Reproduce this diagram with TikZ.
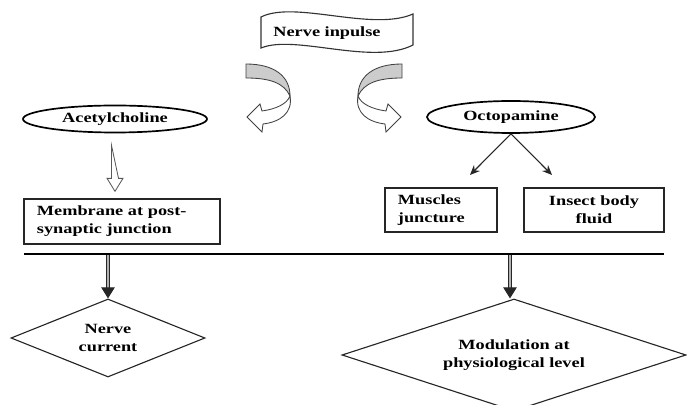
\documentclass[tikz,border=0pt]{standalone}
\usepackage{fontspec}
\newfontfamily\diagfont{Liberation Serif}[FakeStretch=1.3]
\usetikzlibrary{shapes.geometric,arrows.meta,positioning}

\tikzset{
    oval/.style={draw, ellipse, line width=1.2pt, inner sep=0pt},
    textbox/.style={draw=black!85, rectangle, line width=0.8pt, inner xsep=0.325cm, inner ysep=0pt},
    decision/.style={draw=black!85, diamond, line width=0.8pt, inner sep=0pt, align=center},
    hollow/.style={draw=black!65, line width=0.6pt, fill=white},
    bararrow/.style={draw=black!85, line width=0.7pt, double=black!30, double distance=1.2pt, -{Triangle[length=7.8pt, width=9.5pt]}},
    thinarrow/.style={draw=black!85, line width=0.8pt, -{Stealth[length=7pt, width=6pt]}},
    twistarrow/.pic={
        \draw[line width=0.6pt, draw=black!75, fill=black!20] (-44,-32) .. controls (-16,-32) and (0,-20) .. (0,0)
            .. controls (-6,-13) and (-20,-18) .. (-44,-18) -- cycle;
        \draw[line width=0.6pt, draw=black!75, fill=white] (0,0) .. controls (3,17) and (-10,26) .. (-27,28)
            -- (-28,36) -- (-43,21) -- (-30,8) -- (-28,15) .. controls (-14,13) and (-3,8) .. (0,0) -- cycle;
    }
}

\begin{document}
\begin{tikzpicture}[x=0.025cm, y=-0.025cm, font=\diagfont\fontsize{10}{12.8}\selectfont\bfseries]
    \useasboundingbox (0,0) rectangle (687,405);

    % banner on top
    \draw[line width=0.8pt, draw=black!80] (261,17) .. controls (295,0) and (372,32) .. (413,14) -- (413,45)
        .. controls (372,66) and (295,34) .. (261,48) -- cycle;
    \node(impulse) at (327,33) [] {Nerve inpulse};

    \pic at (290,96) {twistarrow};
    \pic[xscale=-1] at (358,96) {twistarrow};

    % left branch
    \node(acetyl) at (115,119) [oval, minimum width=4.6cm, minimum height=0.675cm] {Acetylcholine};
    \node(membrane) at (122,221.5) [textbox, minimum width=4.9cm, minimum height=1.125cm, text width=4.25cm, align=left] {Membrane at post-\\synaptic junction};

    % right branch
    \node(octo) at (511,117) [oval, minimum width=4.2cm, minimum height=0.8cm] {Octopamine};
    \node(muscles) at (441,210) [textbox, minimum width=2.8cm, minimum height=1.1cm, text width=2.15cm, align=left] {Muscles\\juncture};
    \node(fluid) at (594,210) [textbox, minimum width=3.5cm, minimum height=1.1cm, text width=2.85cm, align=center] {Insect body\\fluid};
    \coordinate(tip_m) at (470,175);
    \coordinate(tip_f) at (552,175);

    % bar and outcomes
    \coordinate(bar_l) at (24,254);
    \coordinate(bar_r) at (664,254);
    \coordinate(bar_a) at (108,254);
    \coordinate(bar_b) at (510,254);
    \node(current) at (108,338) [decision, aspect=2.5, minimum width=4.85cm, minimum height=1.95cm] {Nerve\\current};
    \node(modulation) at (514,355) [decision, aspect=3.1, minimum width=8.6cm, minimum height=2.8cm] {Modulation at\\physiological level};

    \draw[hollow] ([shift={(-3.5,12)}]acetyl.south) -- ++(0,33) -- ++(-4.5,0) -- ++(8,13) -- ++(8,-13) -- ++(-4.5,0) -- cycle;
    \draw[thinarrow] (octo.south) -- (tip_m);
    \draw[thinarrow] (octo.south) -- (tip_f);
    \draw[line width=2pt] (bar_l) -- (bar_r);
    \draw[bararrow, shorten <=1pt] (bar_a) -- (current.north);
    \draw[bararrow, shorten <=1pt] (bar_b) -- (bar_b |- modulation.north);
\end{tikzpicture}
\end{document}
